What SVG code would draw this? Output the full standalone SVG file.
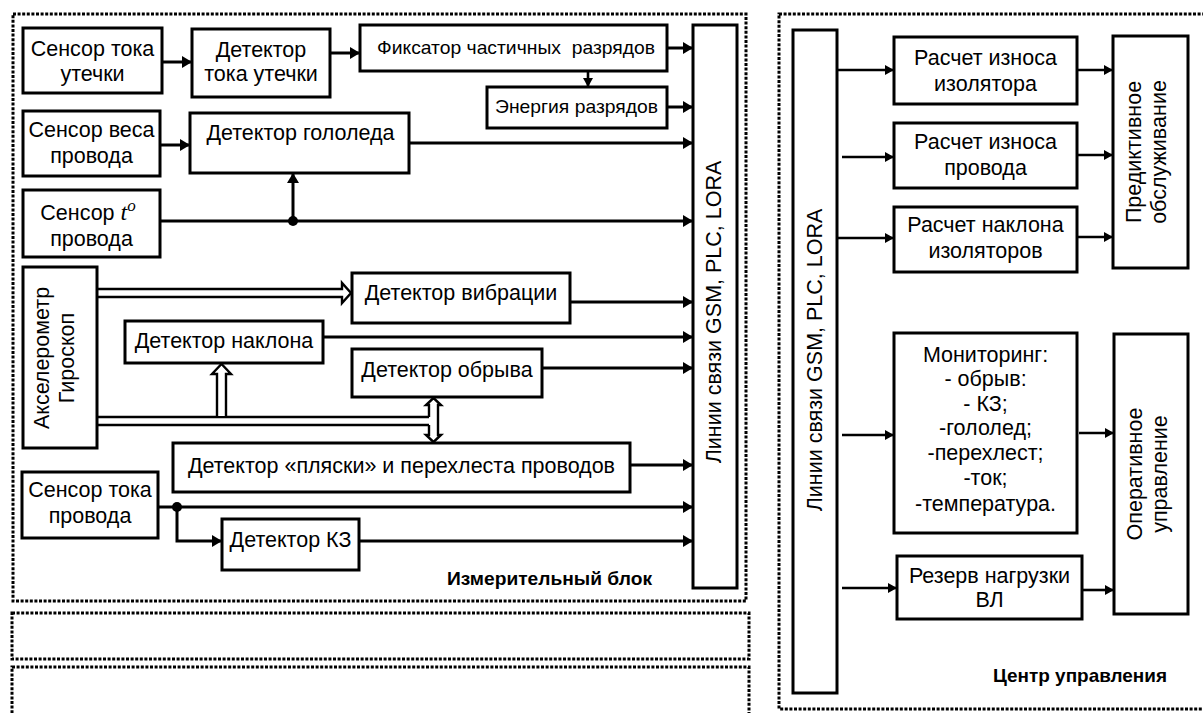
<svg xmlns="http://www.w3.org/2000/svg" width="1203" height="713" viewBox="0 0 1203 713">
<style>
.bg{fill:#fff}
.b{fill:#fff;stroke:#000;stroke-width:3}
.d{fill:none;stroke:#000;stroke-width:3;stroke-dasharray:3 1.6}
.c{fill:none;stroke:#000;stroke-width:3}
.cs{fill:none;stroke:#000;stroke-width:2.6}
.h{fill:#fff;stroke:#000;stroke-width:2.4}
.dl{fill:none;stroke:#000;stroke-width:2.4}
.t{font-family:"Liberation Sans",Arial,sans-serif;font-size:21.5px;text-anchor:middle;fill:#000}
.n{font-family:"Liberation Sans",Arial,sans-serif;font-size:19px;text-anchor:middle;fill:#000}
.ti{font-family:"Liberation Sans",Arial,sans-serif;font-size:19px;font-weight:bold;text-anchor:middle;fill:#000}
</style>
<defs>
<marker id="ah" viewBox="0 0 10 12" refX="10" refY="6" markerWidth="10" markerHeight="12" markerUnits="userSpaceOnUse" orient="auto">
<path d="M0,0 L10,6 L0,12 z" fill="#000"/>
</marker>
<marker id="as" viewBox="0 0 9 10" refX="9" refY="5" markerWidth="9" markerHeight="10" markerUnits="userSpaceOnUse" orient="auto">
<path d="M0,0 L9,5 L0,10 z" fill="#000"/>
</marker>
</defs>
<rect class="bg" x="0" y="0" width="1203" height="713"/>

<g id="frames">
<rect class="d" x="13" y="14" width="733" height="587"/>
<rect class="d" x="12" y="613" width="737" height="46"/>
<rect class="d" x="12" y="667" width="737" height="52"/>
<rect class="d" x="779" y="14" width="432" height="695"/>
<text class="ti" x="549.5" y="585" textLength="205" lengthAdjust="spacingAndGlyphs">Измерительный блок</text>
<text class="ti" x="1080" y="682" textLength="174" lengthAdjust="spacingAndGlyphs">Центр управления</text>
</g>

<g id="connectors">
<line class="c" x1="162" y1="62" x2="192" y2="62" marker-end="url(#ah)"/>
<line class="c" x1="330" y1="53" x2="360" y2="53" marker-end="url(#ah)"/>
<line class="c" x1="667" y1="48" x2="693" y2="48" marker-end="url(#ah)"/>
<line class="cs" x1="588" y1="71" x2="588" y2="87" marker-end="url(#as)"/>
<line class="c" x1="667" y1="107" x2="693" y2="107" marker-end="url(#ah)"/>
<line class="c" x1="160" y1="145" x2="190" y2="145" marker-end="url(#ah)"/>
<line class="c" x1="409" y1="143" x2="693" y2="143" marker-end="url(#ah)"/>
<line class="c" x1="160" y1="221" x2="693" y2="221" marker-end="url(#ah)"/>
<line class="c" x1="293" y1="221" x2="293" y2="173" marker-end="url(#ah)"/>
<circle cx="293" cy="221" r="5" fill="#000"/>
<path class="h" d="M97,289 H342 V283 L351,293 L342,303 V297 H97"/>
<line class="c" x1="570" y1="302" x2="693" y2="302" marker-end="url(#ah)"/>
<line class="c" x1="323" y1="337" x2="693" y2="337" marker-end="url(#ah)"/>
<line class="c" x1="542" y1="368" x2="693" y2="368" marker-end="url(#ah)"/>
<line class="dl" x1="97" y1="417" x2="430" y2="417"/>
<line class="dl" x1="97" y1="425" x2="430" y2="425"/>
<path class="h" d="M217,416 V374 H212 L221.5,364 L231,374 H226 V416"/>
<path class="h" d="M429,417 V405 H426 L433.5,398 L441,405 H438 V435 H441 L433.5,442 L426,435 H429 V425"/>
<line class="c" x1="630" y1="465" x2="693" y2="465" marker-end="url(#ah)"/>
<line class="c" x1="158" y1="507" x2="693" y2="507" marker-end="url(#ah)"/>
<circle cx="177" cy="507" r="5" fill="#000"/>
<polyline class="c" points="177,507 177,541 222,541" marker-end="url(#ah)"/>
<line class="c" x1="359" y1="541" x2="693" y2="541" marker-end="url(#ah)"/>

<line class="cs" x1="837" y1="70" x2="894" y2="70" marker-end="url(#as)"/>
<line class="cs" x1="842" y1="157" x2="894" y2="157" marker-end="url(#as)"/>
<line class="cs" x1="837" y1="238" x2="894" y2="238" marker-end="url(#as)"/>
<line class="cs" x1="1077" y1="70" x2="1113" y2="70" marker-end="url(#as)"/>
<line class="cs" x1="1077" y1="155" x2="1113" y2="155" marker-end="url(#as)"/>
<line class="cs" x1="1077" y1="237" x2="1113" y2="237" marker-end="url(#as)"/>
<line class="cs" x1="842" y1="435" x2="894" y2="435" marker-end="url(#as)"/>
<line class="cs" x1="1079" y1="433" x2="1114" y2="433" marker-end="url(#as)"/>
<line class="cs" x1="842" y1="588" x2="897" y2="588" marker-end="url(#as)"/>
<line class="cs" x1="1082" y1="590" x2="1114" y2="590" marker-end="url(#as)"/>
</g>

<g id="sensor-leak">
<rect class="b" x="23" y="28" width="139" height="65"/>
<text class="t" x="92.5" y="56">Сенсор тока</text>
<text class="t" x="92.5" y="81">утечки</text>
</g>
<g id="det-leak">
<rect class="b" x="192" y="29" width="138" height="68"/>
<text class="t" x="261" y="57">Детектор</text>
<text class="t" x="261" y="81">тока утечки</text>
</g>
<g id="pd-fix">
<rect class="b" x="360" y="25" width="307" height="46"/>
<text class="n" x="516" y="54" textLength="278" lengthAdjust="spacingAndGlyphs" style="white-space:pre">Фиксатор частичных  разрядов</text>
</g>
<g id="pd-energy">
<rect class="b" x="487" y="87" width="180" height="41"/>
<text class="n" x="576.5" y="113" textLength="163" lengthAdjust="spacingAndGlyphs">Энергия разрядов</text>
</g>
<g id="sensor-weight">
<rect class="b" x="23" y="111" width="137" height="65"/>
<text class="t" x="91.5" y="137">Сенсор веса</text>
<text class="t" x="91.5" y="163">провода</text>
</g>
<g id="det-ice">
<rect class="b" x="190" y="113" width="219" height="60"/>
<text class="t" x="300.5" y="140">Детектор гололеда</text>
</g>
<g id="sensor-temp">
<rect class="b" x="23" y="190" width="137" height="67"/>
<text class="t" x="88" y="220">Сенсор <tspan font-family="Liberation Serif" font-style="italic" font-size="24">t</tspan><tspan font-family="Liberation Serif" font-style="italic" font-size="17" dy="-9">o</tspan></text>
<text class="t" x="91.5" y="246">провода</text>
</g>
<g id="accel">
<rect class="b" x="23" y="267" width="74" height="181"/>
<text class="t" transform="translate(49,358) rotate(-90)">Акселерометр</text>
<text class="t" transform="translate(74,358) rotate(-90)">Гироскоп</text>
</g>
<g id="det-vib">
<rect class="b" x="352" y="273" width="218" height="50"/>
<text class="t" x="461" y="300">Детектор вибрации</text>
</g>
<g id="det-tilt">
<rect class="b" x="125" y="321" width="198" height="42"/>
<text class="t" x="224" y="348">Детектор наклона</text>
</g>
<g id="det-break">
<rect class="b" x="352" y="349" width="190" height="48"/>
<text class="t" x="447" y="377">Детектор обрыва</text>
</g>
<g id="det-gallop">
<rect class="b" x="173" y="443" width="457" height="49"/>
<text class="t" x="401.5" y="473">Детектор «пляски» и перехлеста проводов</text>
</g>
<g id="sensor-current">
<rect class="b" x="22" y="472" width="136" height="66"/>
<text class="t" x="90" y="497">Сенсор тока</text>
<text class="t" x="90" y="523">провода</text>
</g>
<g id="det-sc">
<rect class="b" x="222" y="519" width="137" height="51"/>
<text class="t" x="290.5" y="547">Детектор КЗ</text>
</g>
<g id="bus-left">
<rect class="b" x="693" y="25" width="44" height="563"/>
<text class="t" transform="translate(721,312) rotate(-90)">Линии связи GSM, PLC, LORA</text>
</g>

<g id="bus-right">
<rect class="b" x="793" y="30" width="44" height="663"/>
<text class="t" transform="translate(822,360) rotate(-90)">Линии связи GSM, PLC, LORA</text>
</g>
<g id="calc-insulator">
<rect class="b" x="894" y="37" width="183" height="67"/>
<text class="t" x="985.5" y="65">Расчет износа</text>
<text class="t" x="985.5" y="91">изолятора</text>
</g>
<g id="calc-wire">
<rect class="b" x="894" y="123" width="183" height="65"/>
<text class="t" x="985.5" y="149">Расчет износа</text>
<text class="t" x="985.5" y="175">провода</text>
</g>
<g id="calc-tilt">
<rect class="b" x="894" y="207" width="183" height="65"/>
<text class="t" x="985.5" y="232">Расчет наклона</text>
<text class="t" x="985.5" y="258">изоляторов</text>
</g>
<g id="predictive">
<rect class="b" x="1113" y="36" width="75" height="232"/>
<text class="t" transform="translate(1141,152) rotate(-90)">Предиктивное</text>
<text class="t" transform="translate(1166,152) rotate(-90)">обслуживание</text>
</g>
<g id="monitoring">
<rect class="b" x="894" y="333" width="183" height="200"/>
<text class="t" x="985.5" y="362">Мониторинг:</text>
<text class="t" x="985.5" y="386">- обрыв:</text>
<text class="t" x="985.5" y="411">- КЗ;</text>
<text class="t" x="985.5" y="435">-гололед;</text>
<text class="t" x="985.5" y="460">-перехлест;</text>
<text class="t" x="985.5" y="485">-ток;</text>
<text class="t" x="985.5" y="511">-температура.</text>
</g>
<g id="reserve">
<rect class="b" x="897" y="556" width="185" height="63"/>
<text class="t" x="989.5" y="583">Резерв нагрузки</text>
<text class="t" x="989.5" y="607">ВЛ</text>
</g>
<g id="operative">
<rect class="b" x="1114" y="334" width="74" height="280"/>
<text class="t" transform="translate(1142,474) rotate(-90)">Оперативное</text>
<text class="t" transform="translate(1167,474) rotate(-90)">управление</text>
</g>
</svg>
